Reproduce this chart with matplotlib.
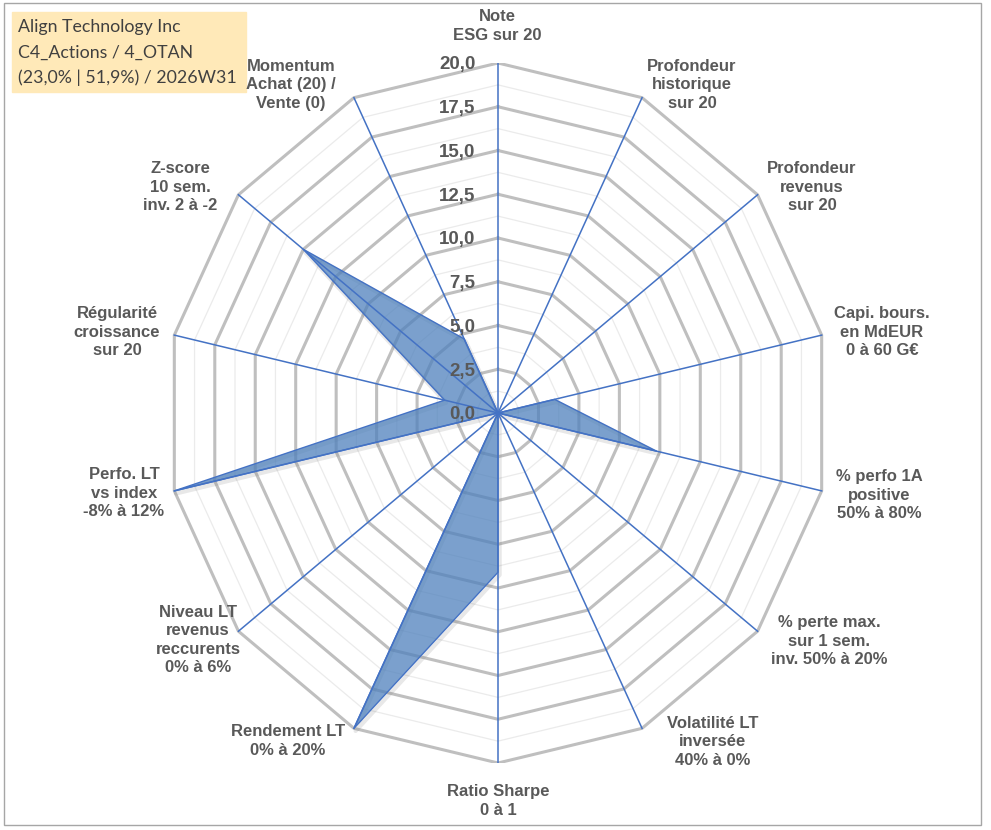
import numpy as np
import matplotlib.pyplot as plt
from matplotlib.patches import Rectangle

# axis names, clockwise from the top
labels = [
    "Note\nESG sur 20",
    "Profondeur\nhistorique\nsur 20",
    "Profondeur\nrevenus\nsur 20",
    "Capi. bours.\nen MdEUR\n0 à 60 G€",
    "% perfo 1A\npositive\n50% à 80%",
    "% perte max.\nsur 1 sem.\ninv. 50% à 20%",
    "Volatilité LT\ninversée\n40% à 0%",
    "Ratio Sharpe\n0 à 1",
    "Rendement LT\n0% à 20%",
    "Niveau LT\nrevenus\nreccurents\n0% à 6%",
    "Perfo. LT\nvs index\n-8% à 12%",
    "Régularité\ncroissance\nsur 20",
    "Z-score\n10 sem.\ninv. 2 à -2",
    "Momentum\nAchat (20) /\nVente (0)",
]
scores = [0, 0, 0, 3.5, 9.8, 0, 0, 9.1, 20, 0, 20, 3.3, 15.0, 4.7]
ticks = [0, 2.5, 5, 7.5, 10, 12.5, 15, 17.5, 20]
title_lines = ["Align Technology Inc", "C4_Actions / 4_OTAN", "(23,0% | 51,9%) / 2026W31"]

# label centres in pixels (from top-left), one per axis
label_pos = [(497, 26), (692, 85), (812, 187), (882, 332), (879, 495), (829, 641),
             (713, 742), (498, 801), (288, 741), (198, 640), (124, 493), (117, 332),
             (180, 187), (291, 85)]

W, H = 991, 830
CX, CY, RX, RY = 498, 413, 332, 350
GREY_TXT = "#595959"

fig = plt.figure(figsize=(W / 100, H / 100), dpi=100)
ax = fig.add_axes([(CX - RX) / W, (H - CY - RY) / H, 2 * RX / W, 2 * RY / H])
ax.set_xlim(-20, 20)
ax.set_ylim(-20, 20)
ax.axis("off")

n = len(labels)
ang = np.arange(n) * 2 * np.pi / n
ang_c = np.append(ang, ang[0])

# minor and major polygon grid
for r in np.arange(1.25, 20.01, 1.25):
    major = abs(r / 2.5 - round(r / 2.5)) < 1e-6
    ax.plot(r * np.sin(ang_c), r * np.cos(ang_c),
            color="#BFBFBF" if major else "#EBEBEB",
            lw=2.2 if major else 0.9, zorder=1, solid_joinstyle="miter")

vals = np.array(scores + scores[:1])
xs, ys = vals * np.sin(ang_c), vals * np.cos(ang_c)
# soft shadow along the edge, then the filled area
ax.plot(xs + 0.1, ys - 0.15, color="#808080", alpha=0.18, lw=3, zorder=2)
ax.fill(xs, ys, color="#4F81BD", alpha=0.75, lw=0, zorder=3)
ax.plot(xs, ys, color="#4472C4", lw=1.0, zorder=4)

# blue spokes
for a in ang:
    ax.plot([0, 20 * np.sin(a)], [0, 20 * np.cos(a)], color="#4472C4", lw=1.1, zorder=5)

for t in ticks:
    ax.text(-1.35, t - 0.1, f"{t:.1f}".replace(".", ","), ha="right", va="center",
            fontsize=13.5, fontweight="bold", color=GREY_TXT,
            family="Liberation Sans", zorder=6)

for lab, (px, py) in zip(labels, label_pos):
    fig.text(px / W, 1 - py / H, lab, ha="center", va="center", fontsize=12,
             fontweight="bold", color=GREY_TXT, family="Liberation Sans",
             linespacing=1.3)

# title box
fig.patches.append(Rectangle((12 / W, 1 - 92 / H), 234 / W, 80 / H,
                             transform=fig.transFigure, color="#FFE9B8", zorder=0))
for i, line in enumerate(title_lines):
    fig.text(18 / W, 1 - (27 + 25.5 * i) / H, line, ha="left", va="center",
             fontsize=12.8, color="#404040", family="Lato")

# chart border
fig.patches.append(Rectangle((4 / W, 1 - 825 / H), 977 / W, 822 / H,
                             transform=fig.transFigure, fill=False,
                             edgecolor="#A6A6A6", lw=1))

fig.savefig("out.png", dpi=100)
